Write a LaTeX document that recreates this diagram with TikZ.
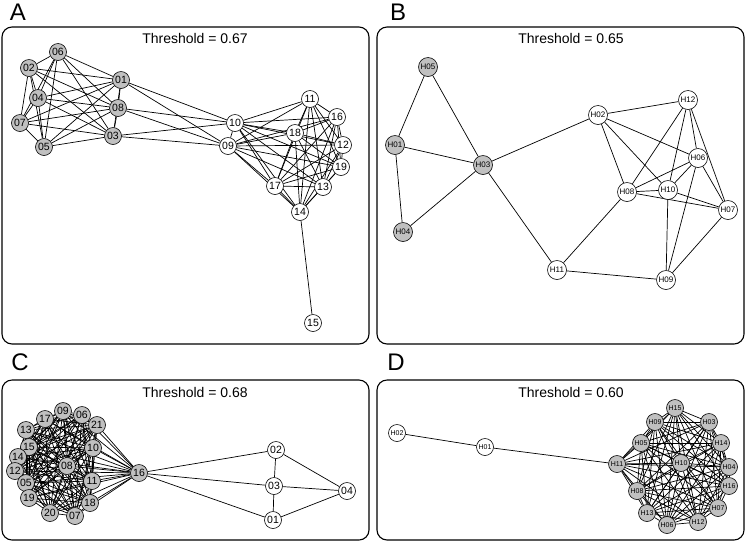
\documentclass[tikz,border=0pt]{standalone}
\usepackage{fontspec}
\setmainfont{Liberation Sans}
\usetikzlibrary{backgrounds}
\definecolor{nodegray}{RGB}{192,192,192}
\tikzset{
  vtx/.style={circle,draw,line width=0.6pt,fill=white,inner sep=0pt,minimum size=17pt,font=\fontsize{10.5}{11}\selectfont},
  gvtx/.style={vtx,fill=nodegray},
  hvtx/.style={vtx,minimum size=19pt,font=\fontsize{8}{9}\selectfont},
  ghvtx/.style={hvtx,fill=nodegray},
  svtx/.style={vtx,minimum size=17pt,font=\fontsize{7}{8}\selectfont},
  gsvtx/.style={svtx,fill=nodegray},
  link/.style={line width=0.7pt},
  panel/.style={draw,line width=1.1pt,rounded corners=10pt},
  thr/.style={font=\fontsize{14}{16}\selectfont},
  letter/.style={font=\fontsize{24}{26}\selectfont}
}
\begin{document}
\begin{tikzpicture}[x=1pt,y=-1pt]
\useasboundingbox (0,0) rectangle (746,542);
\draw [panel] (2,27) rectangle (369,344);
\draw [panel] (377,27) rectangle (744,344);
\draw [panel] (2,380) rectangle (369,540);
\draw [panel] (377,380) rectangle (744,540);
\node [letter] (la) at (18,12) {A};
\node [letter] (lb) at (398,12) {B};
\node [letter] (lc) at (20,362) {C};
\node [letter] (ld) at (396,362) {D};
\node [thr] (ta) at (195,38) {Threshold = 0.67};
\node [thr] (tb) at (571,38) {Threshold = 0.65};
\node [thr] (tc) at (195,392) {Threshold = 0.68};
\node [thr] (td) at (571,392) {Threshold = 0.60};

\foreach \n/\x/\y in {06/58/52,02/29/68,04/38/98,07/20/123,05/44/147,01/121/80,08/118/108,03/113/136}
  \node [gvtx] (a\n) at (\x,\y) {\n};
\foreach \n/\x/\y in {10/235/123,09/228/146,11/310/99,16/337/117,18/295/133,12/343/145,19/341/167,17/275/186,13/323/187,14/300/212,15/313/323}
  \node [vtx] (a\n) at (\x,\y) {\n};

\foreach \n/\x/\y in {05/428/67,01/395/145,03/483/165,04/403/232}
  \node [ghvtx] (b\n) at (\x,\y) {H\n};
\foreach \n/\x/\y in {02/598/115,12/688/100,06/698/158,08/627/192,10/668/190,07/728/210,11/557/270,09/666/280}
  \node [hvtx] (b\n) at (\x,\y) {H\n};

\foreach \n/\x/\y in {09/63/411,06/82/415,17/45/419,21/97/425,13/26/430,15/29/447,10/93/448,14/18/457,08/67/466,12/15/471,05/26/483,11/92/481,19/29/498,18/90/503,20/50/513,07/75/516,16/139/473}
  \node [gvtx] (c\n) at (\x,\y) {\n};
\foreach \n/\x/\y in {02/276/450,03/274/486,04/347/491,01/273/520}
  \node [vtx] (c\n) at (\x,\y) {\n};

\foreach \n/\x/\y in {02/397/433,01/485/447}
  \node [svtx] (d\n) at (\x,\y) {H\n};
\foreach \n/\x/\y in {11/617/464,15/675/408,09/655/422,03/709/422,05/641/443,14/721/443,10/681/463,04/729/467,08/637/491,16/729/486,07/718/508,13/647/513,12/698/522,06/667/525}
  \node [gsvtx] (d\n) at (\x,\y) {H\n};

\begin{pgfonlayer}{background}
\foreach \p [count=\i] in {01,02,03,04,05,06,07,08}
  \foreach \q [count=\j] in {01,02,03,04,05,06,07,08}
    {\ifnum\j>\i \draw [link] (a\p) -- (a\q); \fi}
\foreach \p [count=\i] in {09,10,11,12,13,14,16,17,18,19}
  \foreach \q [count=\j] in {09,10,11,12,13,14,16,17,18,19}
    {\ifnum\j>\i \draw [link] (a\p) -- (a\q); \fi}
\foreach \p in {01,08,03}
  \foreach \q in {10,09}
    \draw [link] (a\p) -- (a\q);
\draw [link] (a14) -- (a15);

\foreach \p/\q in {05/01,05/03,01/03,01/04,04/03,03/02,03/11,02/12,02/08,02/10,02/06,12/08,12/10,12/06,12/07,06/08,06/10,06/07,06/09,08/10,08/07,08/11,10/07,10/09,07/09,11/09}
  \draw [link] (b\p) -- (b\q);

\foreach \p [count=\i] in {05,06,07,08,09,10,11,12,13,14,15,17,18,19,20,21}
  \foreach \q [count=\j] in {05,06,07,08,09,10,11,12,13,14,15,17,18,19,20,21}
    {\ifnum\j>\i \draw [link] (c\p) -- (c\q); \fi}
\foreach \p in {05,06,07,08,09,10,11,12,13,14,15,17,18,19,20,21}
  \draw [link] (c16) -- (c\p);
\foreach \p/\q in {16/02,16/03,16/01,02/03,02/04,03/04,03/01,01/04}
  \draw [link] (c\p) -- (c\q);

\foreach \p [count=\i] in {03,04,05,06,07,08,09,10,11,12,13,14,15,16}
  \foreach \q [count=\j] in {03,04,05,06,07,08,09,10,11,12,13,14,15,16}
    {\ifnum\j>\i \draw [link] (d\p) -- (d\q); \fi}
\draw [link] (d02) -- (d01);
\draw [link] (d01) -- (d11);
\end{pgfonlayer}
\end{tikzpicture}
\end{document}
